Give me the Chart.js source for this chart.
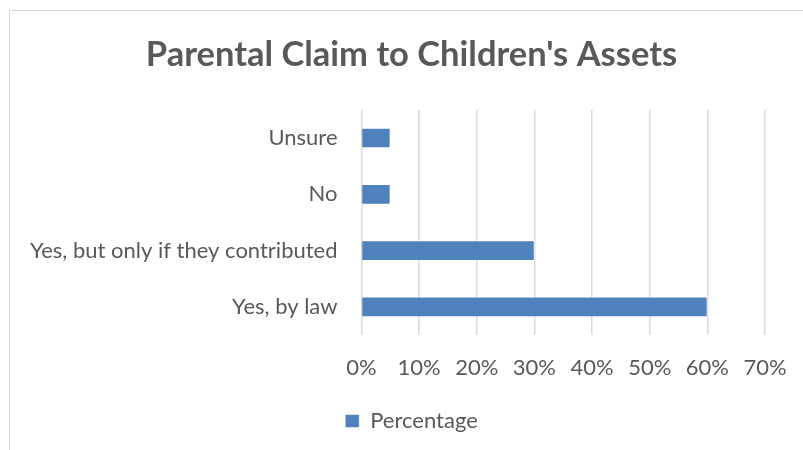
<!DOCTYPE html>
<html>
<head>
<meta charset="utf-8">
<script src="https://cdn.jsdelivr.net/npm/chart.js@4.4.1/dist/chart.umd.min.js"></script>
<style>
  html, body { margin: 0; padding: 0; background: #fff; overflow: hidden; }
  #frame {
    position: absolute;
    left: 9px;
    top: 10px;
    width: 900px;
    height: 500px;
    border-left: 1px solid #d9d9d9;
    border-top: 1px solid #d9d9d9;
  }
</style>
</head>
<body>
<div id="frame">
  <canvas id="claimChart" width="803" height="439"></canvas>
</div>
<script>
// 回答カテゴリと割合（%）
const categories = ['Unsure', 'No', 'Yes, but only if they contributed', 'Yes, by law'];
const percentages = [5, 5, 30, 60];
const seriesName = 'Percentage';
const xTicks = [0, 10, 20, 30, 40, 50, 60, 70];

const textColor = '#595959';
const gridColor = '#d9d9d9';
const barColor = '#4f81bd';
const fontFamily = 'Lato, "Open Sans", sans-serif';

let ctx = document.getElementById('claimChart');

let config = {
  type: 'bar',
  data: {
    labels: categories,
    datasets: [{
      label: seriesName,
      data: percentages,
      backgroundColor: barColor,
      borderColor: 'rgba(255, 255, 255, 0.5)',
      borderWidth: 1,
      barThickness: 20
    }]
  },
  options: {
    indexAxis: 'y',
    responsive: false,
    animation: false,
    layout: {
      padding: { left: 0, right: 0, top: 0, bottom: 8 }
    },
    plugins: {
      title: {
        display: true,
        text: "Parental Claim to Children's Assets",
        color: textColor,
        font: { family: fontFamily, size: 34.5, weight: 'bold' },
        padding: { top: 23.5, bottom: 34 }
      },
      legend: {
        position: 'bottom',
        labels: {
          color: textColor,
          font: { family: fontFamily, size: 22 },
          boxWidth: 14,
          boxHeight: 13,
          padding: 12
        }
      },
      tooltip: { enabled: false }
    },
    scales: {
      x: {
        min: 0,
        max: 70,
        afterBuildTicks: function (scale) {
          scale.ticks = xTicks.map(v => ({ value: v }));
        },
        afterFit: function (scale) {
          scale.height = 63;
        },
        grid: { color: gridColor, lineWidth: 1.5, drawTicks: false },
        border: { display: false },
        ticks: {
          color: textColor,
          font: { family: fontFamily, size: 22 },
          padding: 19.5,
          callback: v => v + '%'
        }
      },
      y: {
        afterFit: function (scale) {
          scale.width = 351.5;
        },
        grid: { display: false, drawTicks: false },
        border: { display: false },
        ticks: {
          color: textColor,
          font: { family: fontFamily, size: 22 },
          padding: 24
        }
      },
      // 右側の空白（目盛りなしの空き軸）
      yRight: {
        type: 'linear',
        position: 'right',
        display: true,
        afterFit: function (scale) {
          scale.width = 48;
        },
        grid: { display: false, drawTicks: false },
        border: { display: false },
        ticks: { display: false }
      }
    }
  }
};

let claimChart = new Chart(ctx, config);
</script>
</body>
</html>
